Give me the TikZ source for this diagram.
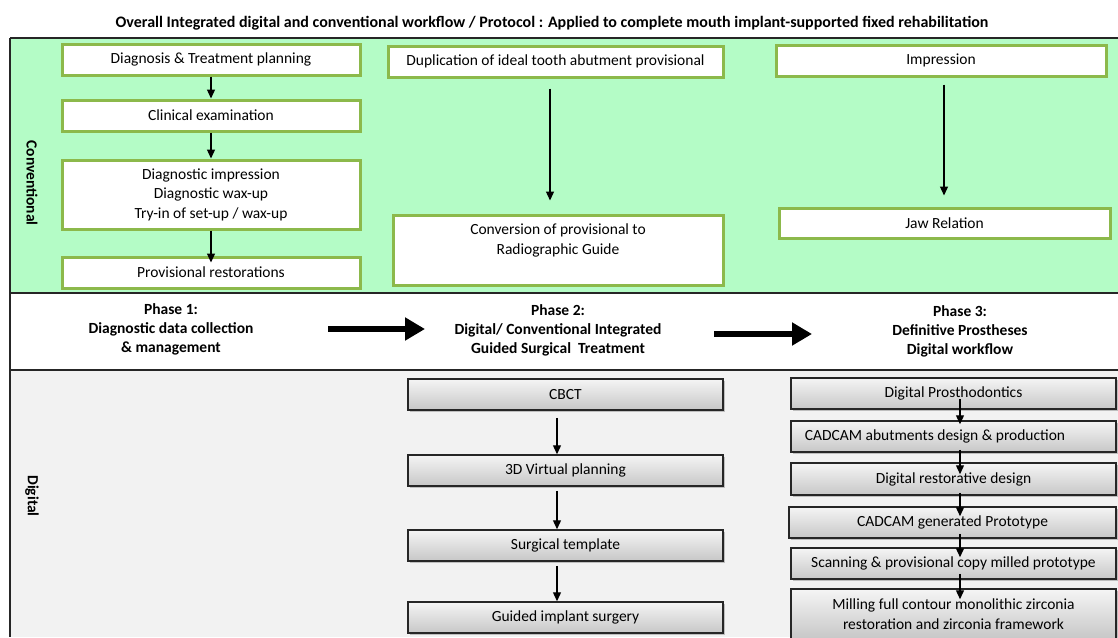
\documentclass[tikz,border=0pt]{standalone}
\usepackage{fontspec}
\setmainfont{Carlito}
\usetikzlibrary{arrows.meta,shadows}
\definecolor{convgreen}{RGB}{180,252,198}
\definecolor{boxgreen}{RGB}{140,185,75}
\definecolor{diggray}{RGB}{242,242,242}
\tikzset{
  txt/.style={font=\fontsize{15.5}{19.5}\selectfont, align=center, inner sep=0pt},
  btxt/.style={font=\fontsize{15.5}{19}\selectfont\bfseries, align=center, inner sep=0pt},
  gbox/.style={draw=boxgreen, line width=3pt, fill=white, inner sep=0pt, align=center,
    font=\fontsize{15.5}{19.5}\selectfont},
  graybox/.style={draw=black!85, line width=1.5pt, top color=white!96!black, bottom color=black!22,
    inner sep=0pt, align=center, font=\fontsize{15.5}{19.5}\selectfont,
    drop shadow={shadow xshift=2pt, shadow yshift=-2pt, opacity=0.45}},
  smallarr/.style={line width=1.3pt, -{Triangle[length=9pt,width=8pt]}},
  bigarr/.style={line width=6pt, -{Triangle[length=20pt,width=22pt]}},
  bandline/.style={line width=2pt, draw=black!85}
}
\begin{document}
\begin{tikzpicture}[x=1pt,y=-1pt]
\useasboundingbox (0,0) rectangle (1118,637);
\clip (0,0) rectangle (1118,637);
% bands
\fill[white] (0,0) rectangle (1118,637);
\fill[convgreen] (10,38) rectangle (1118,293);
\fill[diggray] (10,370) rectangle (1118,637);
\draw[bandline] (10,38) -- (1118,38);
\draw[bandline] (10,293) -- (1118,293);
\draw[bandline] (10,370) -- (1118,370);
\draw[bandline] (10,38) -- (10,637);
% title
\node[btxt, font=\fontsize{16}{19}\selectfont\bfseries] (title) at (552,23) {Overall Integrated digital and conventional workflow / Protocol : Applied to complete mouth implant-supported fixed rehabilitation};
% side labels
\node[btxt, rotate=-90] (conv) at (32,183) {Conventional};
\node[btxt, rotate=-90] (digi) at (32,496) {Digital};
% conventional column 1
\node[gbox, minimum width=298pt, minimum height=31pt] (b1) at (211,59.5) {Diagnosis \& Treatment planning};
\node[gbox, minimum width=298pt, minimum height=31pt] (b2) at (211,115.5) {Clinical examination};
\node[gbox, minimum width=298pt, minimum height=69pt] (b3) at (211,194.5) {Diagnostic impression\\Diagnostic wax-up\\Try-in of set-up / wax-up};
\node[gbox, minimum width=298pt, minimum height=31pt] (b4) at (211,272.5) {Provisional restorations};
\draw[smallarr] (b1.south) -- (b2.north);
\draw[smallarr] (b2.south) -- (b3.north);
\draw[smallarr] (b3.south) -- ([yshift=-7pt]b4.north);
% conventional column 2
\node[gbox, minimum width=335pt, minimum height=31pt] (b5) at (555.5,61.5) {Duplication of ideal tooth abutment provisional};
\node[gbox, minimum width=330pt, minimum height=70pt] (b6) at (558,250) {};
\node[txt] (b6t) at (558,240.5) {Conversion of provisional to\\Radiographic Guide};
\draw[smallarr] ([xshift=-5.5pt,yshift=-10pt]b5.south) -- ([xshift=-8pt,yshift=13pt]b6.north);
% conventional column 3
\node[gbox, minimum width=330pt, minimum height=31pt] (b7) at (941,60.5) {Impression};
\node[gbox, minimum width=331pt, minimum height=30pt] (b8) at (944.5,223) {Jaw Relation};
\draw[smallarr] ([xshift=3pt,yshift=-7pt]b7.south) -- ([xshift=-0.5pt,yshift=11pt]b8.north);
% phases
\node[btxt] (p1) at (171,329) {Phase 1:\\Diagnostic data collection\\\& management};
\node[btxt] (p2) at (558,330) {Phase 2:\\Digital/ Conventional Integrated\\Guided Surgical\ \ Treatment};
\node[btxt] (p3) at (960,331) {Phase 3:\\Definitive Prostheses\\Digital workflow};
\coordinate (a1s) at (328,329);
\coordinate (a1e) at (425,329);
\coordinate (a2s) at (714,334);
\coordinate (a2e) at (812,334);
\draw[bigarr] (a1s) -- (a1e);
\draw[bigarr] (a2s) -- (a2e);
% digital column 2
\node[graybox, minimum width=315pt, minimum height=31pt] (c1) at (565.5,394.5) {CBCT};
\node[graybox, minimum width=315pt, minimum height=31pt] (c2) at (565.5,470.5) {3D Virtual planning};
\node[graybox, minimum width=315pt, minimum height=31pt] (c3) at (565.5,545.5) {Surgical template};
\node[graybox, minimum width=315pt, minimum height=31pt] (c4) at (565.5,617.5) {Guided implant surgery};
\draw[smallarr] ([xshift=-8.5pt,yshift=-7pt]c1.south) -- ([xshift=-8.5pt]c2.north);
\draw[smallarr] ([xshift=-8.5pt,yshift=-4pt]c2.south) -- ([xshift=-8.5pt]c3.north);
\draw[smallarr] ([xshift=-8.5pt,yshift=-4pt]c3.south) -- ([xshift=-8.5pt]c4.north);
% digital column 3
\node[graybox, minimum width=325pt, minimum height=31pt] (d1) at (953.5,393.5) {Digital Prosthodontics};
\node[graybox, minimum width=325pt, minimum height=31pt] (d2) at (953.5,436.5) {};
\node[txt] (d2t) at (935,436.5) {CADCAM abutments design \& production};
\node[graybox, minimum width=325pt, minimum height=32pt] (d3) at (953.5,479) {Digital restorative design};
\node[graybox, minimum width=327pt, minimum height=31pt] (d4) at (952.5,522.5) {CADCAM generated Prototype};
\node[graybox, minimum width=325pt, minimum height=31pt] (d5) at (953.5,563.5) {Scanning \& provisional copy milled prototype};
\node[graybox, minimum width=325pt, minimum height=50pt] (d6) at (953.5,614) {Milling full contour monolithic zirconia\\restoration and zirconia framework};
\draw[smallarr] ([xshift=6.5pt,yshift=11pt]d1.south) -- ([xshift=6.5pt,yshift=-4pt]d2.north);
\draw[smallarr] ([xshift=6.5pt,yshift=3pt]d2.south) -- ([xshift=6.5pt,yshift=-12pt]d3.north);
\draw[smallarr] ([xshift=6.5pt,yshift=3pt]d3.south) -- ([xshift=7.5pt,yshift=-10pt]d4.north);
\draw[smallarr] ([xshift=7.5pt,yshift=5pt]d4.south) -- ([xshift=6.5pt,yshift=-10pt]d5.north);
\draw[smallarr] ([xshift=6.5pt,yshift=6pt]d5.south) -- ([xshift=6.5pt,yshift=-11pt]d6.north);
\end{tikzpicture}
\end{document}
